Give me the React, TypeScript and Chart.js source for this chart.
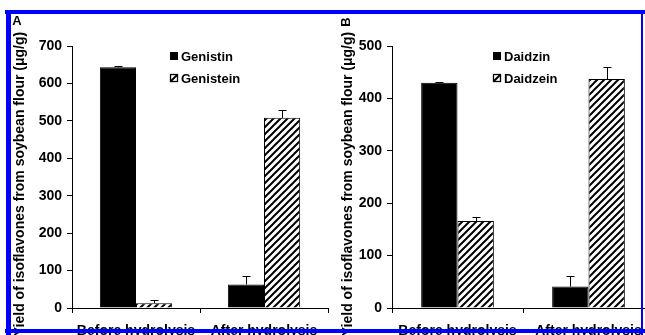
import React, { useEffect, useRef } from "react";
import { Chart, registerables } from "chart.js";

Chart.register(...registerables);

const categories = ["Before hydrolysis", "After hydrolysis"];
const yTitle = "Yield of isoflavones from soybean flour (μg/g)";

const seriesNamesA = ["Genistin", "Genistein"];
const genistin = [643, 63];
const genistinErr = [4, 22];
const genistein = [13, 508];
const genisteinErr = [8, 20];
const yMaxA = 700;

const seriesNamesB = ["Daidzin", "Daidzein"];
const daidzin = [430, 41];
const daidzinErr = [2, 21];
const daidzein = [166, 437];
const daidzeinErr = [8, 22];
const yMaxB = 500;

const yStep = 100;

const FONT = '"Liberation Sans", Arial, Helvetica, sans-serif';

function makeHatch(): CanvasPattern | string {
  const s = 7;
  const c = document.createElement("canvas");
  c.width = s;
  c.height = s;
  const g = c.getContext("2d");
  if (!g) return "#888";
  g.fillStyle = "#fff";
  g.fillRect(0, 0, s, s);
  g.strokeStyle = "#000";
  g.lineWidth = 2;
  g.beginPath();
  g.moveTo(-1, 1);
  g.lineTo(1, -1);
  g.moveTo(0, s);
  g.lineTo(s, 0);
  g.moveTo(s - 1, s + 1);
  g.lineTo(s + 1, s - 1);
  g.stroke();
  return g.createPattern(c, "repeat") || "#888";
}

const panelPlugin = {
  id: "panel",
  afterDatasetsDraw(chart: any) {
    const ctx = chart.ctx;
    const yScale = chart.scales.y;
    ctx.save();
    ctx.strokeStyle = "#000";
    ctx.lineWidth = 1;
    chart.data.datasets.forEach((ds: any, di: number) => {
      const meta = chart.getDatasetMeta(di);
      const errs: number[] = ds.errors || [];
      meta.data.forEach((el: any, i: number) => {
        const v = ds.data[i];
        const e = errs[i] || 0;
        const x = Math.round(el.x) + 0.5;
        const yTop = Math.round(yScale.getPixelForValue(v + e)) + 0.5;
        const yBar = yScale.getPixelForValue(v);
        ctx.beginPath();
        ctx.moveTo(x, yBar);
        ctx.lineTo(x, yTop);
        ctx.moveTo(x - 4, yTop);
        ctx.lineTo(x + 4, yTop);
        ctx.stroke();
      });
    });
    ctx.restore();
  },
  afterDraw(chart: any, _args: any, opts: any) {
    const ctx = chart.ctx;
    const area = chart.chartArea;
    ctx.save();
    ctx.fillStyle = "#000";
    // rotated axis title
    ctx.save();
    ctx.translate(opts.titleX, opts.titleY);
    ctx.rotate(-Math.PI / 2);
    ctx.font = `bold 14px ${FONT}`;
    ctx.textAlign = "center";
    ctx.textBaseline = "middle";
    ctx.fillText(yTitle, 0, 0);
    ctx.restore();
    // panel letter
    ctx.save();
    ctx.translate(opts.letterX, opts.letterY);
    ctx.rotate(opts.letterRot || 0);
    ctx.font = `bold 13px ${FONT}`;
    ctx.textAlign = "center";
    ctx.textBaseline = "middle";
    ctx.fillText(opts.letter, 0, 0);
    ctx.restore();
    // legend
    const x0 = area.left + opts.legendDX;
    const rows = [56, 78];
    ctx.font = `bold 13px ${FONT}`;
    ctx.textAlign = "left";
    ctx.textBaseline = "middle";
    chart.data.datasets.forEach((ds: any, i: number) => {
      const y = rows[i];
      if (i === 0) {
        ctx.fillStyle = "#000";
        ctx.fillRect(x0, y - 4, 8, 8);
      } else {
        ctx.fillStyle = "#fff";
        ctx.fillRect(x0, y - 4, 8, 8);
        ctx.strokeStyle = "#000";
        ctx.lineWidth = 1.3;
        ctx.strokeRect(x0 + 0.5, y - 3.5, 7, 7);
        ctx.lineWidth = 2;
        ctx.beginPath();
        ctx.moveTo(x0 + 0.5, y + 3.5);
        ctx.lineTo(x0 + 7.5, y - 3.5);
        ctx.stroke();
      }
      ctx.fillStyle = "#000";
      ctx.fillText(ds.label, x0 + 11, y + 1);
    });
    ctx.restore();
  },
};

type PanelProps = {
  left: number;
  width: number;
  names: string[];
  v1: number[];
  e1: number[];
  v2: number[];
  e2: number[];
  yMax: number;
  letter: string;
  letterX: number;
  letterY: number;
  letterRot: number;
  titleX: number;
  legendDX: number;
  catPct: number;
};

function Panel(p: PanelProps) {
  const ref = useRef<HTMLCanvasElement>(null);
  useEffect(() => {
    if (!ref.current) return;
    const chart = new Chart(ref.current, {
      type: "bar",
      data: {
        labels: categories,
        datasets: [
          {
            label: p.names[0],
            data: p.v1,
            backgroundColor: "#000",
            borderColor: "#000",
            borderWidth: 1,
            errors: p.e1,
          } as any,
          {
            label: p.names[1],
            data: p.v2,
            backgroundColor: makeHatch() as any,
            borderColor: "#000",
            borderWidth: 1,
            errors: p.e2,
          } as any,
        ],
      },
      options: {
        animation: false,
        responsive: false,
        maintainAspectRatio: false,
        events: [],
        layout: { padding: { top: 46, right: 2, left: 0, bottom: 0 } },
        datasets: { bar: { categoryPercentage: p.catPct, barPercentage: 1 } },
        plugins: {
          legend: { display: false },
          tooltip: { enabled: false },
          panel: {
            titleX: p.titleX,
            titleY: 184,
            letter: p.letter,
            letterX: p.letterX,
            letterY: p.letterY,
            letterRot: p.letterRot,
            legendDX: p.legendDX,
          },
        } as any,
        scales: {
          x: {
            grid: {
              offset: true,
              drawOnChartArea: false,
              drawTicks: true,
              tickLength: 5,
              color: "#000",
            },
            border: { color: "#000", width: 1 },
            ticks: {
              color: "#000",
              font: { family: FONT, size: 14, weight: "bold" },
              padding: 10,
              maxRotation: 0,
              autoSkip: false,
            },
            afterFit: (s: any) => {
              s.height = 27;
            },
          },
          y: {
            min: 0,
            max: p.yMax,
            ticks: {
              stepSize: yStep,
              color: "#000",
              font: { family: FONT, size: 14, weight: "bold" },
              padding: 5,
            },
            grid: {
              drawOnChartArea: false,
              drawTicks: true,
              tickLength: 5,
              color: "#000",
            },
            border: { color: "#000", width: 1 },
            afterFit: (s: any) => {
              s.width = 72;
            },
          },
        },
      },
      plugins: [panelPlugin as any],
    });
    return () => chart.destroy();
  }, []);
  return (
    <canvas
      ref={ref}
      width={p.width}
      height={335}
      style={{ position: "absolute", left: p.left, top: 0, width: p.width, height: 335 }}
    />
  );
}

const BLUE = "#0000ff";

export default function App() {
  return (
    <div
      style={{
        position: "fixed",
        left: 0,
        top: 0,
        width: 645,
        height: 335,
        overflow: "hidden",
        background: "#fff",
      }}
    >
      <Panel
        left={0}
        width={330}
        names={seriesNamesA}
        v1={genistin}
        e1={genistinErr}
        v2={genistein}
        e2={genisteinErr}
        yMax={yMaxA}
        letter="A"
        letterX={17}
        letterY={21}
        letterRot={0}
        titleX={20}
        legendDX={98}
        catPct={0.565}
      />
      <Panel
        left={320}
        width={336}
        names={seriesNamesB}
        v1={daidzin}
        e1={daidzinErr}
        v2={daidzein}
        e2={daidzeinErr}
        yMax={yMaxB}
        letter="B"
        letterX={26}
        letterY={22}
        letterRot={-Math.PI / 2}
        titleX={28}
        legendDX={101}
        catPct={0.555}
      />
      <div style={{ position: "absolute", left: 5, top: 10, width: 640, height: 4, background: BLUE }} />
      <div style={{ position: "absolute", left: 6, top: 10, width: 5, height: 325, background: BLUE }} />
      <div style={{ position: "absolute", left: 5, top: 329, width: 640, height: 4, background: BLUE }} />
      <div style={{ position: "absolute", left: 641, top: 10, width: 2, height: 325, background: BLUE }} />
    </div>
  );
}
